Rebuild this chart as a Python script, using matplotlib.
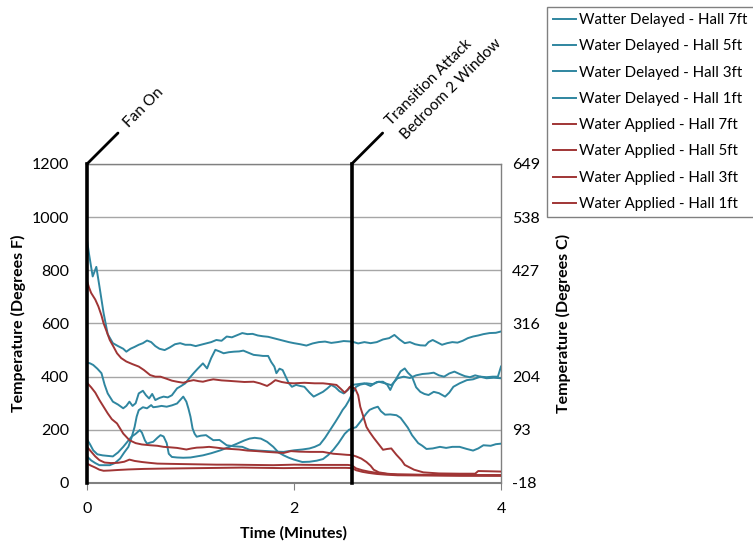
import matplotlib
matplotlib.use("Agg")
import matplotlib.pyplot as plt

plt.rcParams['font.family'] = ['Lato', 'DejaVu Sans']

# ---------------- data (time in minutes, temperature in deg F) ----------------
wd7_t = [0, 0.02, 0.055, 0.09, 0.12, 0.16, 0.2, 0.25, 0.3, 0.35, 0.38, 0.42, 0.46, 0.5, 0.54, 0.58, 0.62, 0.66,
         0.7, 0.75, 0.8, 0.85, 0.9, 0.95, 1.0, 1.05, 1.1, 1.16, 1.2, 1.25, 1.3, 1.35, 1.4, 1.45, 1.5, 1.55, 1.6,
         1.65, 1.7, 1.75, 1.8, 1.85, 1.9, 1.95, 2.0, 2.06, 2.12, 2.18, 2.24, 2.3, 2.36, 2.42, 2.48, 2.56, 2.62,
         2.68, 2.74, 2.8, 2.86, 2.92, 2.97, 3.02, 3.07, 3.12, 3.17, 3.22, 3.27, 3.3, 3.34, 3.38, 3.43, 3.48,
         3.53, 3.58, 3.63, 3.68, 3.73, 3.78, 3.83, 3.89, 3.95, 4.0]
wd7_v = [915, 860, 777, 813, 740, 640, 560, 526, 515, 505, 494, 505, 512, 520, 526, 536, 530, 515,
         505, 500, 510, 522, 526, 520, 520, 515, 520, 526, 530, 538, 535, 551, 548, 556, 564, 560, 561,
         555, 552, 550, 545, 540, 535, 530, 526, 522, 517, 525, 530, 532, 527, 530, 534, 532, 525,
         530, 526, 530, 540, 545, 557, 540, 526, 530, 522, 518, 517, 530, 538, 530, 520, 526,
         530, 528, 535, 545, 551, 555, 560, 564, 565, 570]

wd5_t = [0, 0.03, 0.06, 0.1, 0.14, 0.17, 0.2, 0.25, 0.3, 0.35, 0.38, 0.41, 0.44, 0.47, 0.5, 0.54, 0.57, 0.6,
         0.63, 0.66, 0.7, 0.74, 0.78, 0.82, 0.87, 0.91, 0.95, 0.99, 1.03, 1.07, 1.12, 1.16, 1.2, 1.24, 1.28,
         1.32, 1.37, 1.42, 1.47, 1.51, 1.56, 1.61, 1.66, 1.7, 1.75, 1.78, 1.81, 1.83, 1.86, 1.89, 1.92, 1.95,
         1.98, 2.02, 2.06, 2.1, 2.15, 2.19, 2.24, 2.28, 2.32, 2.36, 2.4, 2.44, 2.48, 2.52, 2.56, 2.62, 2.68,
         2.74, 2.8, 2.86, 2.9, 2.93, 2.96, 2.99, 3.03, 3.07, 3.1, 3.14, 3.18, 3.22, 3.26, 3.3, 3.35, 3.4,
         3.46, 3.5, 3.54, 3.6, 3.67, 3.73, 3.8, 3.86, 3.93, 4.0]
wd5_v = [453, 450, 444, 430, 413, 370, 337, 306, 295, 281, 290, 306, 290, 300, 337, 347, 330, 318,
         335, 312, 320, 325, 322, 330, 356, 365, 375, 395, 413, 430, 450, 431, 470, 501, 495,
         488, 492, 494, 495, 498, 490, 482, 480, 478, 478, 455, 438, 413, 430, 425, 400, 375,
         362, 369, 365, 362, 340, 325, 335, 343, 355, 369, 360, 345, 337, 350, 369, 372, 375,
         365, 380, 381, 370, 350, 375, 394, 420, 431, 415, 400, 360, 343, 335, 331, 343, 338,
         325, 340, 362, 375, 387, 390, 400, 394, 396, 394]

wd3_t = [0, 0.03, 0.06, 0.1, 0.15, 0.2, 0.25, 0.3, 0.35, 0.39, 0.43, 0.47, 0.51, 0.53, 0.56, 0.58, 0.61,
         0.64, 0.68, 0.71, 0.74, 0.77, 0.79, 0.82, 0.87, 0.93, 1.0, 1.06, 1.12, 1.2, 1.29, 1.37, 1.45,
         1.52, 1.57, 1.62, 1.68, 1.74, 1.8, 1.85, 1.9, 1.95, 2.0, 2.08, 2.15, 2.22, 2.28, 2.33, 2.38,
         2.43, 2.49, 2.53, 2.56, 2.6, 2.65, 2.7, 2.73, 2.77, 2.81, 2.84, 2.88, 2.93, 2.99, 3.03, 3.07,
         3.1, 3.14, 3.17, 3.2, 3.24, 3.28, 3.34, 3.41, 3.47, 3.53, 3.6, 3.67, 3.73, 3.78, 3.83, 3.9,
         3.95, 4.0]
wd3_v = [164, 145, 123, 108, 104, 102, 100, 115, 136, 155, 174, 185, 199, 190, 160, 148, 152,
         155, 170, 180, 175, 150, 110, 98, 96, 95, 96, 100, 104, 112, 123, 135, 148,
         160, 167, 170, 167, 155, 136, 115, 104, 95, 88, 79, 80, 84, 90, 105, 125,
         150, 185, 200, 205, 210, 235, 262, 275, 282, 287, 270, 257, 258, 255, 245, 224,
         208, 180, 165, 150, 140, 128, 130, 136, 132, 136, 136, 128, 122, 130, 142, 140,
         146, 148]

wd1_t = [0, 0.04, 0.08, 0.12, 0.17, 0.22, 0.27, 0.32, 0.36, 0.4, 0.43, 0.46, 0.48, 0.5, 0.54, 0.58, 0.62,
         0.64, 0.68, 0.72, 0.77, 0.82, 0.87, 0.9, 0.93, 0.96, 0.98, 1.0, 1.02, 1.04, 1.06, 1.1, 1.15, 1.22,
         1.28, 1.35, 1.42, 1.5, 1.57, 1.65, 1.74, 1.82, 1.9, 2.0, 2.08, 2.15, 2.2, 2.25, 2.3, 2.35, 2.4,
         2.44, 2.47, 2.5, 2.53, 2.56, 2.6, 2.64, 2.7, 2.76, 2.82, 2.88, 2.94, 3.0, 3.06, 3.12, 3.18, 3.24,
         3.3, 3.35, 3.4, 3.45, 3.5, 3.55, 3.6, 3.65, 3.7, 3.75, 3.8, 3.86, 3.92, 3.97, 4.0]
wd1_v = [100, 85, 75, 67, 67, 67, 75, 92, 115, 136, 170, 211, 250, 274, 285, 281, 293,
         285, 287, 290, 287, 292, 299, 312, 325, 306, 280, 249, 205, 185, 174, 178, 180, 161,
         162, 142, 138, 136, 125, 122, 120, 118, 117, 123, 126, 130, 136, 145, 170, 200, 230,
         255, 275, 290, 310, 335, 362, 370, 375, 372, 381, 375, 368, 394, 400, 395, 405, 410,
         412, 415, 405, 400, 412, 419, 410, 402, 398, 405, 400, 398, 400, 400, 438]

wa7_t = [0, 0.02, 0.04, 0.08, 0.11, 0.14, 0.16, 0.19, 0.22, 0.26, 0.29, 0.33, 0.38, 0.44, 0.5, 0.55, 0.61,
         0.66, 0.71, 0.77, 0.82, 0.87, 0.93, 0.98, 1.03, 1.08, 1.12, 1.17, 1.22, 1.3, 1.38, 1.45, 1.52, 1.61,
         1.67, 1.74, 1.78, 1.82, 1.88, 1.94, 2.0, 2.1, 2.2, 2.28, 2.35, 2.41, 2.45, 2.49, 2.52, 2.54, 2.57,
         2.59, 2.62, 2.64, 2.67, 2.7, 2.73, 2.77, 2.8, 2.86, 2.9, 2.94, 2.99, 3.04, 3.07, 3.12, 3.16, 3.25,
         3.4, 3.6, 3.75, 3.78, 3.9, 4.0]
wa7_v = [760, 735, 715, 690, 664, 630, 601, 570, 538, 510, 488, 470, 457, 447, 438, 425, 406,
         400, 400, 392, 385, 381, 377, 383, 387, 383, 381, 386, 390, 386, 384, 382, 380, 381,
         375, 365, 375, 387, 380, 376, 375, 377, 375, 375, 372, 369, 355, 340, 352, 362, 358,
         356, 330, 287, 250, 211, 192, 170, 155, 125, 128, 130, 106, 85, 68, 58, 50, 40,
         36, 35, 35, 45, 44, 43]

wa5_t = [0, 0.04, 0.08, 0.12, 0.16, 0.2, 0.24, 0.29, 0.35, 0.41, 0.47, 0.53, 0.61, 0.68, 0.74, 0.81, 0.87,
         0.93, 0.96, 1.01, 1.06, 1.12, 1.18, 1.25, 1.31, 1.39, 1.47, 1.55, 1.64, 1.74, 1.82, 1.9, 1.97, 2.05,
         2.15, 2.28, 2.38, 2.45, 2.51, 2.56, 2.6, 2.65, 2.7, 2.74, 2.77, 2.82, 2.9, 3.0, 3.2, 3.5, 3.8, 4.0]
wa5_v = [377, 360, 340, 312, 287, 262, 240, 224, 186, 161, 150, 145, 142, 140, 136, 134, 132,
         128, 126, 130, 133, 134, 136, 133, 130, 128, 126, 122, 120, 117, 115, 113, 120, 118,
         117, 117, 110, 108, 106, 105, 100, 92, 79, 65, 50, 40, 35, 32, 31, 30, 30, 30]

wa3_t = [0, 0.04, 0.08, 0.12, 0.17, 0.23, 0.3, 0.36, 0.41, 0.46, 0.53, 0.6, 0.68, 0.8, 0.95, 1.1, 1.25, 1.4,
         1.6, 1.8, 2.0, 2.2, 2.4, 2.52, 2.56, 2.6, 2.66, 2.72, 2.8, 2.9, 3.0, 3.3, 3.6, 4.0]
wa3_v = [136, 118, 100, 86, 77, 75, 76, 80, 88, 83, 79, 76, 73, 72, 71, 70, 69, 69,
         68, 67, 69, 68, 68, 68, 66, 55, 48, 43, 38, 34, 32, 30, 29, 28]

wa1_t = [0, 0.04, 0.08, 0.12, 0.16, 0.22, 0.3, 0.4, 0.55, 0.7, 0.9, 1.1, 1.3, 1.5, 1.7, 1.9, 2.1, 2.3, 2.5,
         2.56, 2.6, 2.66, 2.72, 2.8, 2.9, 3.0, 3.3, 3.6, 4.0]
wa1_v = [73, 65, 58, 50, 46, 47, 49, 51, 53, 54, 55, 56, 57, 58, 57, 56, 57, 57, 57,
         56, 48, 42, 38, 34, 31, 29, 28, 27, 27]

labels = ["Watter Delayed - Hall 7ft", "Water Delayed - Hall 5ft", "Water Delayed - Hall 3ft",
          "Water Delayed - Hall 1ft", "Water Applied - Hall 7ft", "Water Applied - Hall 5ft",
          "Water Applied - Hall 3ft", "Water Applied - Hall 1ft"]

x_ticks = [0, 2, 4]
y_ticks_f = [0, 200, 400, 600, 800, 1000, 1200]
y_ticks_c_labels = ["-18", "93", "204", "316", "427", "538", "649"]

event_times = [0, 2.557]
event_labels = ["Fan On", "Transition Attack\nBedroom 2 Window"]

# ---------------- figure ----------------
teal = "#2F86A0"
red = "#A03535"

fig = plt.figure(figsize=(7.53, 5.46), dpi=100)
ax = fig.add_axes([87 / 753, 1 - 483 / 546, (501 - 87) / 753, (483 - 164) / 546])

series = [(wd7_t, wd7_v, teal), (wd5_t, wd5_v, teal), (wd3_t, wd3_v, teal), (wd1_t, wd1_v, teal),
          (wa7_t, wa7_v, red), (wa5_t, wa5_v, red), (wa3_t, wa3_v, red), (wa1_t, wa1_v, red)]
for (t, v, c), lab in zip(series, labels):
    ax.plot(t, v, color=c, lw=1.4, label=lab, zorder=3)

ax.set_xlim(0, 4)
ax.set_ylim(0, 1200)
ax.set_xticks(x_ticks)
ax.set_xticklabels([str(x) for x in x_ticks])
ax.set_yticks(y_ticks_f)
ax.set_yticklabels([str(y) for y in y_ticks_f])
ax.grid(axis='y', color='#A6A6A6', lw=1.0, zorder=0)
ax.tick_params(axis='y', length=0, labelsize=11.5, pad=13)
ax.tick_params(axis='x', length=5, color='#808080', labelsize=11.5, pad=9, direction='out')
for s in ['top', 'right', 'bottom']:
    ax.spines[s].set_color('#808080')
    ax.spines[s].set_linewidth(1.0)
ax.spines['bottom'].set_linewidth(1.5)
ax.spines['left'].set_visible(False)

ax.set_xlabel("Time (Minutes)", fontsize=11.5, fontweight='bold', labelpad=7)
ax.set_ylabel("Temperature (Degrees F)", fontsize=11.5, fontweight='bold', labelpad=4)

ax2 = ax.twinx()
ax2.set_ylim((0 - 32) / 1.8, (1200 - 32) / 1.8)
ax2.set_yticks([(f - 32) / 1.8 for f in y_ticks_f])
ax2.set_yticklabels(y_ticks_c_labels)
ax2.tick_params(axis='y', length=0, labelsize=11.5, pad=8)
for s in ax2.spines.values():
    s.set_visible(False)
ax2.set_ylabel("Temperature (Degrees C)", fontsize=11.5, fontweight='bold', labelpad=11)

# event lines
for et in event_times:
    ax.axvline(et, color='black', lw=2.6, zorder=4, clip_on=False)
    ax.annotate("", xy=(et, 1200), xycoords='data', xytext=(22.3, 22.3), textcoords='offset points',
                arrowprops=dict(arrowstyle='-', color='black', lw=2.0, shrinkA=0, shrinkB=0),
                annotation_clip=False)

ax.annotate("Fan On", xy=(event_times[0], 1200), xycoords='data', xytext=(30, 26),
            textcoords='offset points', rotation=45, rotation_mode='anchor',
            ha='left', va='baseline', fontsize=11, annotation_clip=False)
tl = event_labels[1].split("\n")
ax.annotate(tl[0], xy=(event_times[1], 1200), xycoords='data', xytext=(28, 27),
            textcoords='offset points', rotation=45, rotation_mode='anchor',
            ha='left', va='baseline', fontsize=11, annotation_clip=False)
ax.annotate(tl[1], xy=(event_times[1], 1200), xycoords='data', xytext=(39, 17),
            textcoords='offset points', rotation=45, rotation_mode='anchor',
            ha='left', va='baseline', fontsize=11, annotation_clip=False)

leg = ax.legend(loc='upper left', bbox_to_anchor=(547 / 753, 1 - 7 / 546), bbox_transform=fig.transFigure,
                fontsize=10.8, frameon=True, fancybox=False, edgecolor='#808080', framealpha=1,
                handlelength=1.5, handletextpad=0.25, labelspacing=0.82, borderpad=0.4, borderaxespad=0)
leg.get_frame().set_linewidth(1.0)

fig.savefig("out.png", dpi=100)
